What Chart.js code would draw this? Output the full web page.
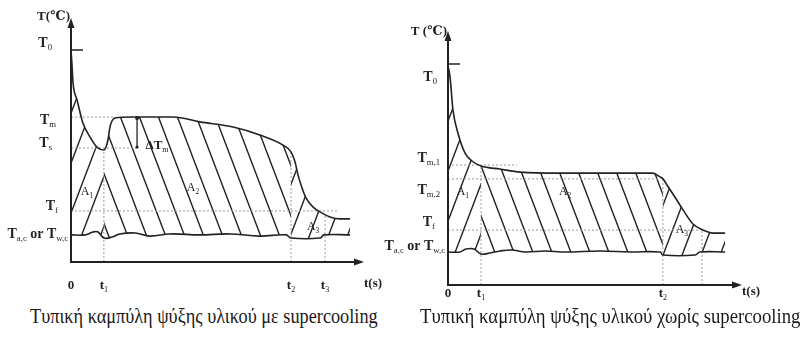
<!DOCTYPE html>
<html>
<head>
<meta charset="utf-8">
<script src="https://cdn.jsdelivr.net/npm/chart.js@4.4.0/dist/chart.umd.min.js"></script>
<style>
body { margin:0; background:#fff; width:803px; height:338px; position:relative; overflow:hidden; }
canvas { position:absolute; top:0; }
#c1 { left:0; }
#c2 { left:380px; }
.cap { position:absolute; top:305px; font-family:'Liberation Serif', serif; font-size:20px; color:#1a1a1a; white-space:nowrap; transform-origin:left top; }
</style>
</head>
<body>
<canvas id="c1" width="400" height="300"></canvas>
<canvas id="c2" width="423" height="300"></canvas>
<div class="cap" id="cap1">Τυπική καμπύλη ψύξης υλικού με supercooling</div>
<div class="cap" id="cap2">Τυπική καμπύλη ψύξης υλικού χωρίς supercooling</div>
<script>
// left: cooling curve with supercooling (arbitrary units 0-100)
var leftTime = [0, 0.3, 0.7, 2.1, 4.1, 6.5, 8.9, 11.3, 12.7, 13.4, 15.1, 21.3, 35.1, 44.3, 55.7, 64.9, 72.9, 75.6, 77.0, 78.0, 79.4, 80.8, 83.2, 86.3, 89.0, 92.4, 95.9];
var leftTemp = [87.6, 82.2, 74.0, 66.9, 57.4, 51.7, 47.5, 46.3, 50.4, 55.8, 59.5, 59.9, 59.9, 57.9, 55.8, 52.5, 48.3, 45.5, 41.3, 36.0, 30.6, 26.4, 22.7, 20.2, 18.6, 17.8, 17.8];
var leftBaseTime = [0, 4.8, 7.6, 9.3, 11.3, 14.1, 16.8, 22.0, 27.1, 34.0, 44.3, 54.6, 64.9, 73.9, 75.6, 85.6, 86.9, 95.9];
var leftBaseTemp = [11.2, 11.2, 12.4, 12.4, 9.9, 10.3, 11.6, 12.0, 10.7, 11.6, 11.2, 11.6, 10.7, 11.2, 9.9, 9.9, 11.2, 11.2];
var leftTempTicks = [87.6, 59.9, 47.1, 21.1, 11.2];
var leftTempLabels = ['T_0', 'T_m', 'T_s', 'T_f', 'T_{a,c} or T_{w,c}'];
var leftTimeTicks = [0, 11.3, 75.6, 87.3];
var leftTimeLabels = ['0', 't_1', 't_2', 't_3'];
var leftGuideEnds = [15.1, 22.7, 91.4];

// right: cooling curve without supercooling
var rightTime = [0, 0.7, 1.7, 3.4, 5.8, 8.2, 11.3, 17.8, 24.7, 38.4, 70.2, 72.6, 73.6, 75.0, 77.7, 80.5, 83.9, 87.3, 90.8, 94.9];
var rightTemp = [86.9, 82.5, 69.4, 60.3, 52.4, 49.2, 47.2, 46.0, 44.8, 44.4, 44.4, 42.9, 42.1, 39.7, 34.9, 29.8, 24.2, 21.8, 20.6, 20.6];
var rightBaseTime = [0, 4.1, 6.2, 8.9, 11.3, 14.4, 17.8, 21.9, 26.4, 33.2, 40.1, 52.1, 62.3, 72.6, 73.6, 84.6, 86.3, 94.9];
var rightBaseTemp = [13.1, 13.1, 14.3, 14.3, 12.3, 12.7, 13.5, 13.9, 13.1, 13.5, 13.1, 13.5, 13.1, 13.1, 11.9, 11.9, 13.1, 13.1];
var rightTempTicks = [87.7, 47.6, 42.1, 21.8, 13.1];
var rightTempLabels = ['T_0', 'T_{m,1}', 'T_{m,2}', 'T_f', 'T_{a,c} or T_{w,c}'];
var rightTimeTicks = [0, 11.3, 73.6, 87.0];
var rightTimeLabels = ['0', 't_1', 't_2', ''];
var rightGuideEnds = [23.6, 72.6, 86.0];

var INK = '#222';
var SERIF = '"Liberation Serif", "DejaVu Serif", serif';

function pts(xs, ys, a, b) {
    var out = [];
    xs.forEach(function (x, i) {
        if (x >= a && x <= b) out.push({x: x, y: ys[i]});
    });
    return out;
}

function curveAt(xs, ys, t) {
    for (var i = 1; i < xs.length; i++) {
        if (xs[i] >= t) {
            var k = (t - xs[i - 1]) / (xs[i] - xs[i - 1]);
            return ys[i - 1] + k * (ys[i] - ys[i - 1]);
        }
    }
    return ys[ys.length - 1];
}

// diagonal hatch as a canvas pattern; dir 1 = '/', -1 = '\'
function hatch(dir) {
    var w = 19, h = 50;
    var c = document.createElement('canvas');
    c.width = w; c.height = h;
    var g = c.getContext('2d');
    g.strokeStyle = INK;
    g.lineWidth = 1.4;
    g.beginPath();
    for (var o = -w; o <= w; o += w) {
        if (dir > 0) { g.moveTo(o - w, 2 * h); g.lineTo(o + 2 * w, -h); }
        else { g.moveTo(o - w, -h); g.lineTo(o + 2 * w, 2 * h); }
    }
    g.stroke();
    return g.createPattern(c, 'repeat');
}

function parts(s) {
    var out = [], re = /_\{([^}]*)\}|_(.)/g, last = 0, m;
    while ((m = re.exec(s))) {
        if (m.index > last) out.push({t: s.slice(last, m.index), sub: false});
        out.push({t: m[1] !== undefined ? m[1] : m[2], sub: true});
        last = re.lastIndex;
    }
    if (last < s.length) out.push({t: s.slice(last), sub: false});
    return out;
}

function drawText(ctx, s, x, y, size, align, bold) {
    var p = parts(s), w = 0;
    var f = function (q) { return (bold && !q.sub ? 'bold ' : '') + (q.sub ? size * 0.62 : size) + 'px ' + SERIF; };
    p.forEach(function (q) { ctx.font = f(q); q.w = ctx.measureText(q.t).width; w += q.w; });
    var cx = align === 'right' ? x - w : (align === 'center' ? x - w / 2 : x);
    ctx.textBaseline = 'middle';
    ctx.textAlign = 'left';
    p.forEach(function (q) {
        ctx.font = f(q);
        ctx.fillText(q.t, cx, q.sub ? y + size * 0.32 : y);
        cx += q.w;
    });
}

function diagram(spec) {
    return {
        id: 'diagram',
        afterDraw: function (chart) {
            var ctx = chart.ctx, a = chart.chartArea;
            var xs = chart.scales.x, ys = chart.scales.y;
            ctx.save();
            ctx.strokeStyle = INK;
            ctx.fillStyle = INK;
            // axes with arrows
            ctx.lineWidth = 2;
            ctx.beginPath();
            ctx.moveTo(a.left, a.top + 4);
            ctx.lineTo(a.left, a.bottom);
            ctx.lineTo(a.right - 4, a.bottom);
            ctx.stroke();
            ctx.beginPath();
            ctx.moveTo(a.left, a.top - 2); ctx.lineTo(a.left - 3.5, a.top + 8); ctx.lineTo(a.left + 3.5, a.top + 8);
            ctx.fill();
            ctx.beginPath();
            ctx.moveTo(a.right + 2, a.bottom); ctx.lineTo(a.right - 8, a.bottom - 3.5); ctx.lineTo(a.right - 8, a.bottom + 3.5);
            ctx.fill();
            // T0 tick
            var y0 = ys.getPixelForValue(spec.tempTicks[0]);
            ctx.lineWidth = 1.5;
            ctx.beginPath(); ctx.moveTo(a.left, y0); ctx.lineTo(a.left + 12, y0); ctx.stroke();
            // y labels
            spec.tempLabels.forEach(function (lab, i) {
                drawText(ctx, lab, a.left - spec.tempGap[i], ys.getPixelForValue(spec.tempTicks[i]) + spec.tempDy[i], 14, 'right', true);
            });
            drawText(ctx, spec.title, a.left - 1, a.top + spec.titleDy, 13, 'right', true);
            // x labels
            spec.timeLabels.forEach(function (lab, i) {
                if (lab) drawText(ctx, lab, xs.getPixelForValue(spec.timeTicks[i]), a.bottom + spec.timeDy, 13, 'center', true);
            });
            drawText(ctx, 't(s)', a.right + 11, a.bottom + spec.timeDy - 2, 13, 'center', true);
            // region labels
            spec.areas.forEach(function (r) {
                drawText(ctx, r.label, xs.getPixelForValue(r.x), ys.getPixelForValue(r.y), 12, 'center', false);
            });
            // delta Tm marker
            if (spec.delta) {
                var dx = xs.getPixelForValue(spec.delta.x);
                var yA = ys.getPixelForValue(spec.delta.to), yB = ys.getPixelForValue(spec.delta.from);
                ctx.lineWidth = 1.3;
                ctx.beginPath(); ctx.moveTo(dx, yA); ctx.lineTo(dx, yB); ctx.stroke();
                ctx.beginPath(); ctx.arc(dx, yA + 1, 2, 0, Math.PI * 2); ctx.fill();
                ctx.beginPath(); ctx.arc(dx, yB - 1, 1.6, 0, Math.PI * 2); ctx.fill();
                drawText(ctx, spec.delta.label, dx + 20, (yA + yB) / 2 + 13, 13, 'center', true);
            }
            ctx.restore();
        }
    };
}

function makeChart(spec) {
    var t1 = spec.timeTicks[1], t2 = spec.timeTicks[2], tEnd = spec.time[spec.time.length - 1];
    var lineStyle = {pointRadius: 0, borderColor: INK, borderWidth: 1.6, fill: false, order: 1};
    var datasets = [
        Object.assign({data: pts(spec.baseTime, spec.baseTemp, 0, 100), tension: 0.4}, lineStyle),
        Object.assign({data: pts(spec.time, spec.temp, 0, 100), cubicInterpolationMode: 'monotone'}, lineStyle)
    ];
    [[0, t1, 1], [t1, t2, -1], [t2, tEnd, 1]].forEach(function (r) {
        datasets.push({
            data: pts(spec.time, spec.temp, r[0], r[1]),
            cubicInterpolationMode: 'monotone',
            pointRadius: 0, borderColor: 'rgba(0,0,0,0)', borderWidth: 1,
            backgroundColor: hatch(r[2]), fill: 0, order: 5
        });
    });
    var dotted = {pointRadius: 0, borderColor: '#9a9a9a', borderWidth: 1, borderDash: [2, 2], fill: false, order: 2};
    spec.tempTicks.slice(1, 4).forEach(function (v, i) {
        datasets.push(Object.assign({data: [{x: 0, y: v}, {x: spec.guideEnds[i], y: v}]}, dotted));
    });
    spec.timeTicks.slice(1).forEach(function (t) {
        datasets.push(Object.assign({data: [{x: t, y: 0}, {x: t, y: curveAt(spec.time, spec.temp, t)}]}, dotted));
    });
    return new Chart(document.getElementById(spec.canvas), {
        type: 'line',
        data: {datasets: datasets},
        options: {
            responsive: false,
            animation: false,
            layout: {padding: spec.pad},
            scales: {
                x: {type: 'linear', min: 0, max: 100, display: false},
                y: {type: 'linear', min: 0, max: 100, display: false}
            },
            plugins: {legend: {display: false}, tooltip: {enabled: false}}
        },
        plugins: [diagram(spec)]
    });
}

makeChart({
    canvas: 'c1',
    pad: {left: 71, right: 38, top: 20, bottom: 38},
    time: leftTime, temp: leftTemp, baseTime: leftBaseTime, baseTemp: leftBaseTemp,
    tempTicks: leftTempTicks, tempLabels: leftTempLabels,
    tempGap: [19, 15, 19, 13, 3], tempDy: [-7, 3, -5, -5, -1],
    timeTicks: leftTimeTicks, timeLabels: leftTimeLabels, timeDy: 24,
    guideEnds: leftGuideEnds,
    title: 'T(℃)', titleDy: -3,
    areas: [{label: 'A_1', x: 5.5, y: 29}, {label: 'A_2', x: 41.9, y: 30.6}, {label: 'A_3', x: 83.2, y: 14.5}],
    delta: {x: 22.7, from: leftTempTicks[2], to: leftTempTicks[1], label: 'ΔT_m'}
});

makeChart({
    canvas: 'c2',
    pad: {left: 68, right: 63, top: 33, bottom: 15},
    time: rightTime, temp: rightTemp, baseTime: rightBaseTime, baseTemp: rightBaseTemp,
    tempTicks: rightTempTicks, tempLabels: rightTempLabels,
    tempGap: [11, 8, 8, 13, 3], tempDy: [13, -7, 11, -8, -6],
    timeTicks: rightTimeTicks, timeLabels: rightTimeLabels, timeDy: 9,
    guideEnds: rightGuideEnds,
    title: 'T (℃)', titleDy: -1,
    areas: [{label: 'A_1', x: 5.1, y: 36.9}, {label: 'A_2', x: 40.1, y: 36.9}, {label: 'A_3', x: 80.1, y: 21.8}]
});

// captions squeezed to the reference widths
[['cap1', 30, 378], ['cap2', 420, 800]].forEach(function (c) {
    var el = document.getElementById(c[0]);
    var w = el.offsetWidth;
    el.style.left = c[1] + 'px';
    el.style.transform = 'scaleX(' + ((c[2] - c[1]) / w) + ')';
});
</script>
</body>
</html>
